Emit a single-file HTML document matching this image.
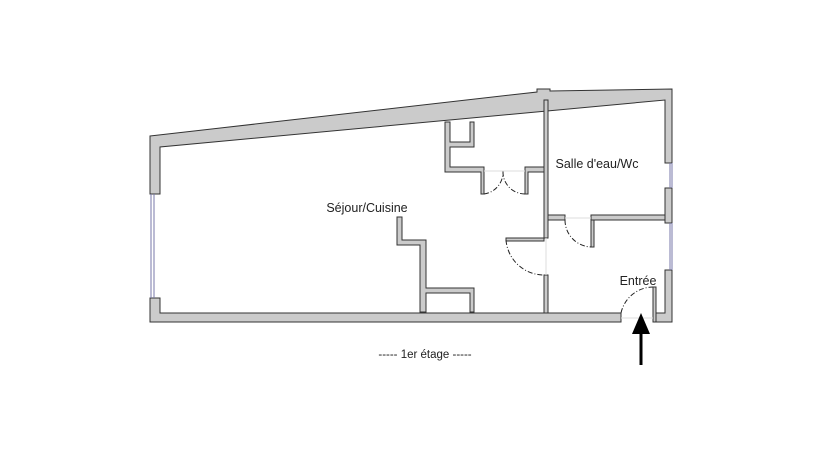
<!DOCTYPE html>
<html><head><meta charset="utf-8"><style>
html,body{margin:0;padding:0;background:#fff;}
svg{display:block;}
text{font-family:"Liberation Sans","DejaVu Sans",sans-serif;fill:#222;}
</style></head><body>
<svg width="823" height="465" viewBox="0 0 823 465" xmlns="http://www.w3.org/2000/svg">
<g fill="#cbcbcb" stroke="#333" stroke-width="1">
<polygon points="150,136 537,92 537,89 550,89 550,91 672,89 672,163 665,163 665,100 160,147 160,194 150,194"/>
<polygon points="150,298 160,298 160,313 621,313 621,322 150,322"/>
<polygon points="665,270 672,270 672,322 656,322 656,313 665,313"/>
<rect x="653" y="287" width="3" height="35"/>
<rect x="665" y="188" width="7" height="35"/>
<rect x="544" y="100" width="4" height="138"/>
<rect x="544" y="275" width="4" height="38"/>
<rect x="548" y="215" width="17" height="5"/>
<rect x="591" y="215" width="74" height="5"/>
<rect x="591" y="220" width="3" height="27"/>
<rect x="506" y="238" width="38" height="3"/>
<polygon points="445,122 450,122 450,142 470,142 470,122 474,122 474,147 450,147 450,167 484,167 484,194 481,194 481,172 445,172"/>
<polygon points="525,194 528,194 528,172 544,172 544,167 525,167"/>
<polygon points="397,217 402,217 402,240 426,240 426,288 474,288 474,312 470,312 470,293 426,293 426,312 420,312 420,245 397,245"/>
</g>
<g stroke="#7777aa" stroke-width="1" fill="none">
<line x1="151" y1="194" x2="151" y2="298"/><line x1="154" y1="194" x2="154" y2="298"/>
<line x1="670" y1="163" x2="670" y2="188"/><line x1="672" y1="163" x2="672" y2="188"/>
<line x1="670" y1="223" x2="670" y2="270"/><line x1="672" y1="223" x2="672" y2="270"/>
</g>
<g stroke="#222" stroke-width="1" fill="none" stroke-dasharray="5,2,1,2">
<path d="M484,194 A22,22 0 0 0 503,171"/>
<path d="M525,194 A22,22 0 0 1 503,171"/>
<path d="M506,240 A38,38 0 0 0 544,275"/>
<path d="M565,220 A27,27 0 0 0 591,247"/>
<path d="M621,313 A33,33 0 0 1 653,287"/>
</g>
<g stroke="#ddd" stroke-width="1">
<line x1="484" y1="171" x2="525" y2="171"/>
<line x1="546" y1="238" x2="546" y2="275"/>
<line x1="565" y1="218" x2="591" y2="218"/>
<line x1="621" y1="318" x2="653" y2="318"/>
</g>
<line x1="641" y1="332" x2="641" y2="365" stroke="#000" stroke-width="3"/>
<polygon points="641,313 632,334 650,334" fill="#000"/>
<text x="367" y="212" font-size="12.5" text-anchor="middle">Séjour/Cuisine</text>
<text x="597" y="168" font-size="12.5" text-anchor="middle">Salle d'eau/Wc</text>
<text x="638" y="285" font-size="12.5" text-anchor="middle">Entrée</text>
<text x="425" y="358" font-size="11.5" text-anchor="middle">-----   1er étage   -----</text>
</svg>
</body></html>
